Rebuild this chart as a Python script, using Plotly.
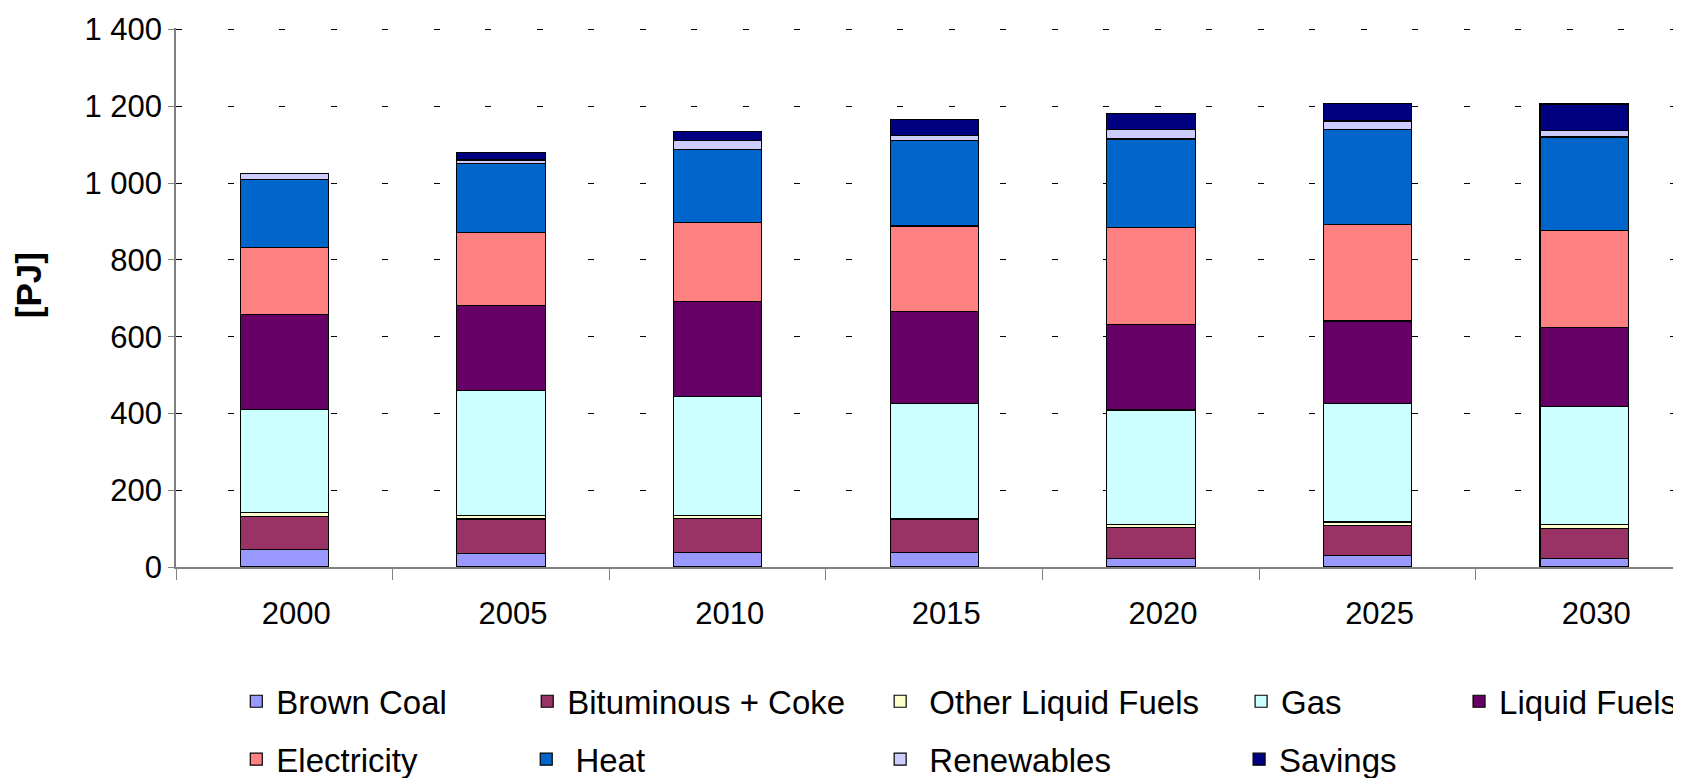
import plotly.graph_objects as go

years = ["2000", "2005", "2010", "2015", "2020", "2025", "2030"]

brown_coal = [45, 36, 37, 37, 23, 31, 23]
bituminous = [87, 89, 89, 87, 79, 78, 78]
other_liquid = [9, 9, 9, 2, 9, 8, 9]
gas = [270, 325, 309, 300, 298, 308, 308]
liquid_fuels = [247, 223, 248, 240, 222, 216, 205]
electricity = [174, 190, 205, 222, 253, 252, 253]
heat = [177, 180, 191, 222, 231, 246, 244]
renewables = [16, 8, 22, 15, 24, 23, 16]
savings = [0, 19, 25, 41, 43, 45, 70]

series_names = ["Brown Coal", "Bituminous + Coke", "\u00a0Other Liquid Fuels", "Gas",
                "Liquid Fuels", "Electricity", "\u00a0Heat", "\u00a0Renewables", "Savings"]
series_values = [brown_coal, bituminous, other_liquid, gas, liquid_fuels,
                 electricity, heat, renewables, savings]
series_colors = ["#9999FF", "#993366", "#FFFFCC", "#CCFFFF", "#660066",
                 "#FF8080", "#0066CC", "#CCCCFF", "#000080"]

y_tickvals = [0, 200, 400, 600, 800, 1000, 1200, 1400]
y_ticktext = ["0", "200", "400", "600", "800", "1 000", "1 200", "1 400"]
Y_MAX = 1404

# the page body adds an 8px offset; the figure is sized so the page matches
OFF = 8
W, H = 1681 - OFF, 778 - OFF
SCALE = (567.5 - 29.3) / 1400.0
L = 175.7 - OFF
T = 29.3 - (Y_MAX - 1400) * SCALE - OFF
BOTTOM = 567.5 - OFF
B = H - BOTTOM
PW = W - L
PH = BOTTOM - T

def px_x(px):
    return (px - OFF - L) / PW

def px_y(py):
    return (BOTTOM - (py - OFF)) / PH

# legend placement (left edge px, centre y px) in page pixels
legend_pos = [(236, 702), (527, 702), (880, 702), (1241, 702), (1459, 702),
              (236, 760), (526, 760), (880, 760), (1239, 760)]

FONT = "Liberation Sans, Arial, sans-serif"

fig = go.Figure()
layout_legends = {}
for i, (name, vals, col) in enumerate(zip(series_names, series_values, series_colors)):
    lid = "legend" if i == 0 else f"legend{i+1}"
    fig.add_trace(go.Bar(
        x=years, y=vals, name=name,
        marker=dict(color=col, line=dict(color="#000000", width=1.2)),
        legend=lid,
    ))
    lx, ly = legend_pos[i]
    layout_legends[lid] = dict(
        x=px_x(lx), y=px_y(ly), xanchor="left", yanchor="middle",
        xref="paper", yref="paper",
        font=dict(family=FONT, size=33, color="#000000"),
        bgcolor="rgba(0,0,0,0)", borderwidth=0,
    )

fig.update_layout(
    width=W, height=H, autosize=False,
    template="none",
    barmode="stack",
    bargap=0.592,
    plot_bgcolor="#FFFFFF", paper_bgcolor="#FFFFFF",
    margin=dict(l=L, r=0, t=T, b=B, pad=0, autoexpand=False),
    font=dict(family=FONT, size=31, color="#000000"),
    showlegend=True,
    **layout_legends,
)

fig.update_xaxes(
    type="category",
    range=[-0.5, -0.5 + PW / 216.7],
    showline=True, linecolor="#808080", linewidth=1.5,
    showgrid=False, zeroline=False,
    ticks="outside", tickson="boundaries", ticklen=11, tickcolor="#808080", tickwidth=1.3,
    tickfont=dict(family=FONT, size=31, color="#000000"),
    ticklabelshift=12, ticklabelstandoff=18,
)

fig.update_yaxes(
    range=[0, Y_MAX],
    tickmode="array", tickvals=y_tickvals, ticktext=y_ticktext,
    showline=True, linecolor="#808080", linewidth=1.5,
    showgrid=True, gridcolor="#000000", gridwidth=1, griddash="6px,45.5px",
    zeroline=False,
    ticks="outside", ticklen=6, tickcolor="#808080", tickwidth=1.3,
    tickfont=dict(family=FONT, size=31, color="#000000"),
    ticklabelstandoff=0,
)

fig.add_annotation(
    text="<b>[PJ]</b>", x=px_x(29), y=px_y(285), xref="paper", yref="paper",
    xanchor="center", yanchor="middle", textangle=-90, showarrow=False,
    font=dict(family=FONT, size=35, color="#000000"),
)

fig.write_html("out.html")
